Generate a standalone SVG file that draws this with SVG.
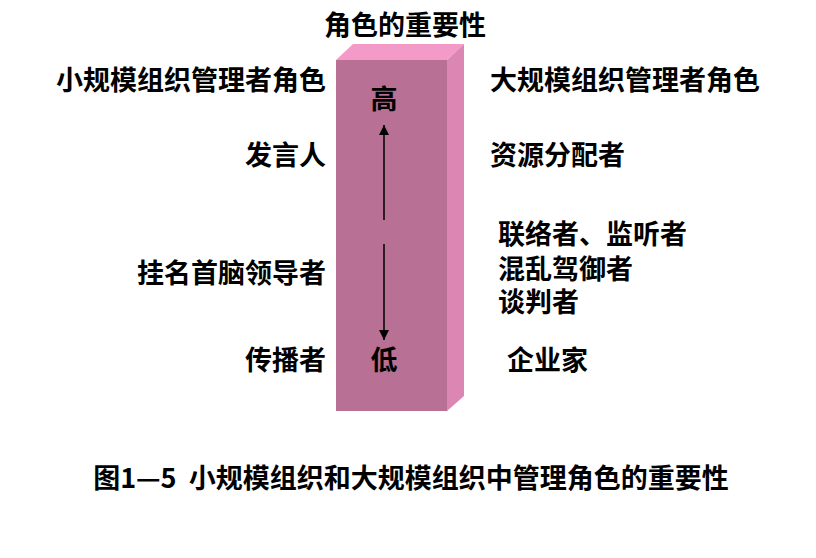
<svg xmlns="http://www.w3.org/2000/svg" width="816" height="558" viewBox="0 0 816 558">
<style>
text{font-family:"Noto Sans CJK SC","Noto Sans",sans-serif;font-weight:bold;fill:#000;font-size:27px}
.l{text-anchor:end}
.m{text-anchor:middle}
</style>
<defs>
<marker id="ah" markerWidth="10" markerHeight="10" refX="10" refY="5" orient="auto" markerUnits="userSpaceOnUse" viewBox="0 0 10 10">
<path d="M0,0 L10,5 L0,10 z" fill="#000"/>
</marker>
</defs>
<rect width="816" height="558" fill="#fff"/>
<g id="bar">
<polygon points="336,60 353,44 464,44 447,60" fill="#F49AC8"/>
<polygon points="447,60 464,44 464,396 447,411" fill="#DC86B4"/>
<rect x="336" y="60" width="111" height="351" fill="#B87094"/>
</g>
<g id="connectors">
<line x1="384" y1="220" x2="384" y2="125" stroke="#000" stroke-width="1.5" marker-end="url(#ah)"/>
<line x1="384" y1="244" x2="384" y2="340" stroke="#000" stroke-width="1.5" marker-end="url(#ah)"/>
</g>
<g id="title"><text class="m" x="405" y="35">角色的重要性</text></g>
<g id="high"><text class="m" x="384" y="109">高</text></g>
<g id="low"><text class="m" x="384" y="370">低</text></g>
<g id="left">
<text class="l" x="326" y="90">小规模组织管理者角色</text>
<text class="l" x="326" y="165">发言人</text>
<text class="l" x="326" y="283">挂名首脑领导者</text>
<text class="l" x="326" y="370">传播者</text>
</g>
<g id="right">
<text x="490" y="90">大规模组织管理者角色</text>
<text x="490" y="165">资源分配者</text>
<text x="498" y="244">联络者、监听者</text>
<text x="498" y="279">混乱驾御者</text>
<text x="498" y="312">谈判者</text>
<text x="507" y="370">企业家</text>
</g>
<g id="caption"><text class="m" x="411" y="488" style="white-space:pre">图1—5  小规模组织和大规模组织中管理角色的重要性</text></g>
</svg>
